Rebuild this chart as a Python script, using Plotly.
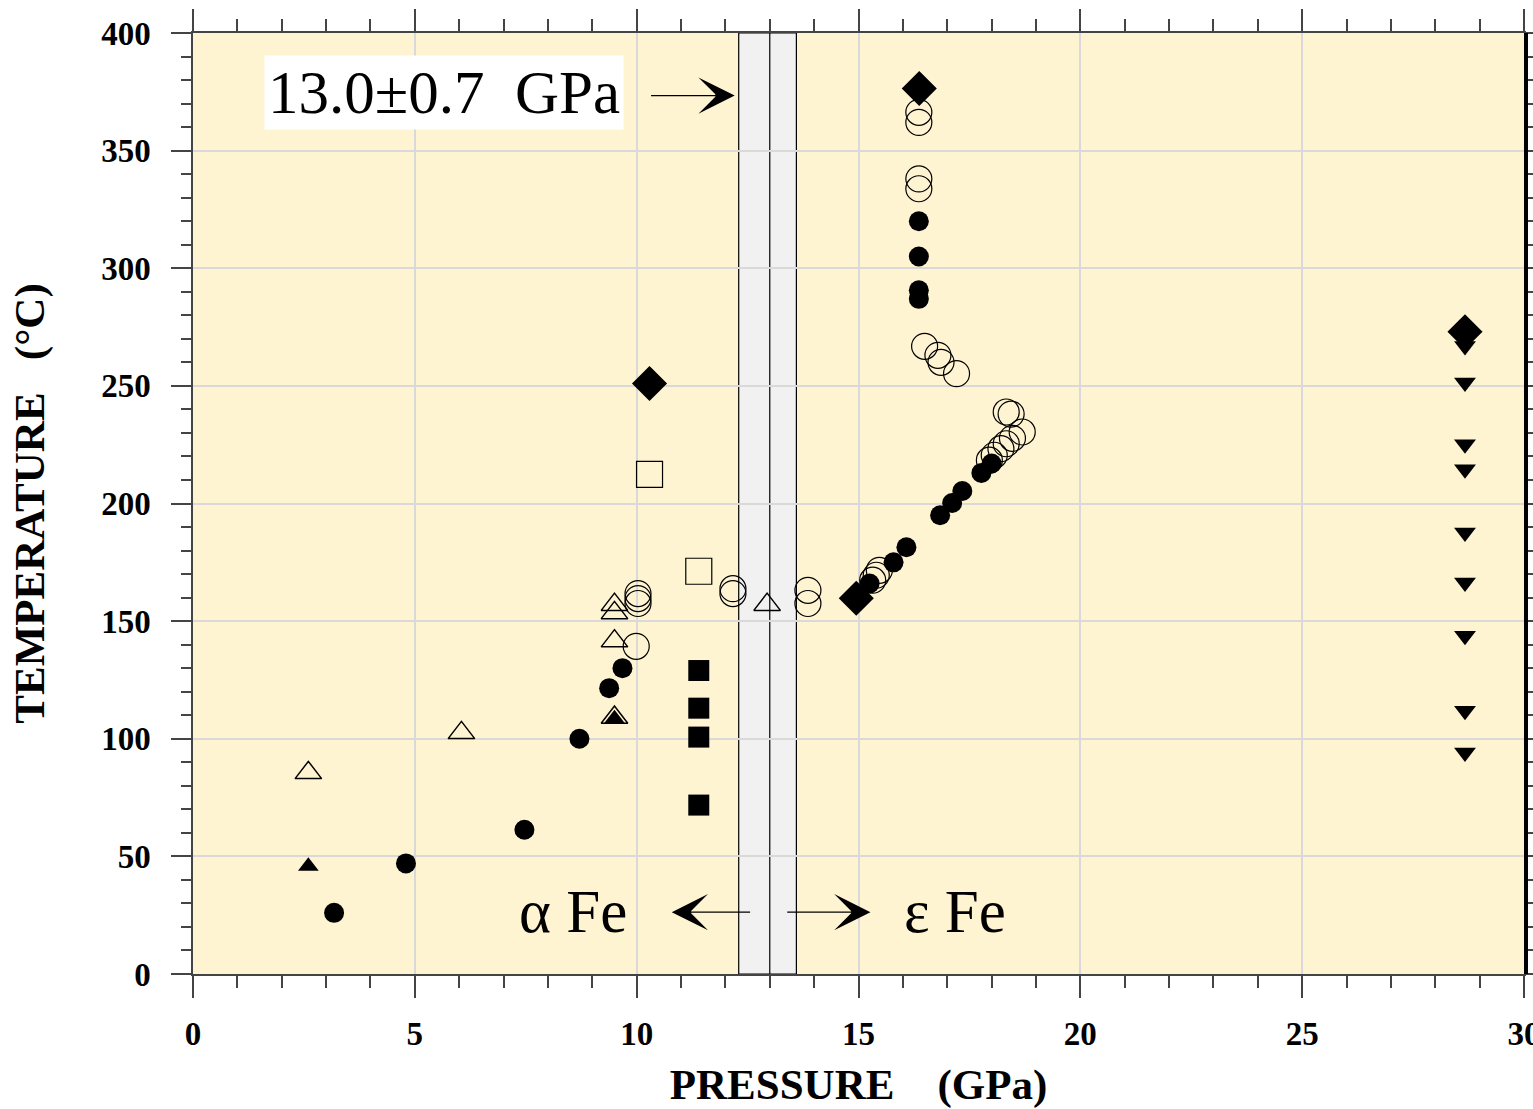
import plotly.graph_objects as go

# ---------------- data ----------------
filled_circle_p = [3.18, 4.80, 7.47, 8.71, 9.38, 9.68, 15.25, 15.79, 16.08, 16.84, 17.11, 17.34, 17.77, 18.00,
                   16.36, 16.36, 16.36, 16.36]
filled_circle_t = [26.0, 47.0, 61.3, 100.0, 121.5, 130.0, 166.0, 175.0, 181.4, 195.0, 200.2, 205.3, 213.0, 217.0,
                   320.0, 305.0, 290.6, 287.0]

open_circle_p = [10.03, 10.03, 10.03, 9.99, 12.17, 12.17, 13.86, 13.86, 15.32, 15.40, 15.47,
                 16.36, 16.36, 16.36, 16.36, 16.49, 16.79, 16.86, 17.21,
                 17.95, 18.06, 18.21, 18.33, 18.47, 18.69, 18.33, 18.44]
open_circle_t = [161.7, 159.6, 157.5, 139.3, 163.8, 161.7, 163.1, 157.5, 167.4, 169.5, 171.6,
                 366.3, 362.0, 338.0, 333.8, 266.8, 263.0, 260.0, 255.2,
                 218.4, 220.5, 223.3, 225.4, 227.7, 230.4, 238.9, 238.0]

open_tri_p = [2.60, 6.05, 9.50, 9.50, 9.50, 12.94, 9.50]
open_tri_t = [85.5, 102.5, 157.0, 153.5, 141.5, 157.0, 109.0]

filled_tri_p = [2.60, 9.50]
filled_tri_t = [45.8, 108.5]

filled_sq_p = [11.40, 11.40, 11.40, 11.40]
filled_sq_t = [129.0, 113.0, 100.7, 71.8]

open_sq_p = [10.29, 11.40]
open_sq_t = [212.4, 171.2]

diamond_p = [10.29, 16.37, 14.95, 28.67]
diamond_t = [251.0, 376.4, 159.7, 273.0]

down_tri_p = [28.67] * 9
down_tri_t = [267.0, 251.4, 225.2, 214.6, 187.7, 166.4, 143.8, 111.9, 94.2]

band_left, band_mid, band_right = 12.3, 13.0, 13.6

x_ticks = [0, 5, 10, 15, 20, 25, 30]
y_ticks = [0, 50, 100, 150, 200, 250, 300, 350, 400]

# ---------------- figure ----------------
fig = go.Figure()

def add(p, t, symbol, size, filled, lw=1.2):
    fig.add_trace(go.Scatter(
        x=p, y=t, mode="markers", showlegend=False, hoverinfo="skip", cliponaxis=False,
        marker=dict(symbol=symbol, size=size,
                    color="black" if filled else "rgba(0,0,0,0)",
                    line=dict(color="black", width=0 if filled else lw))))

add(open_circle_p, open_circle_t, "circle", 26, False)
add(open_tri_p, open_tri_t, "triangle-up", 23, False, 1.5)
add(open_sq_p, open_sq_t, "square", 26, False)
add(filled_circle_p, filled_circle_t, "circle", 20, True)
add(filled_tri_p, filled_tri_t, "triangle-up", 18, True)
add(filled_sq_p, filled_sq_t, "square", 21, True)
add(down_tri_p, down_tri_t, "triangle-down", 19, True)
add(diamond_p, diamond_t, "diamond", 27, True)

# transition band
fig.add_shape(type="rect", xref="x", yref="y", x0=band_left, x1=band_right, y0=0, y1=400,
              fillcolor="#f1f1f1", line=dict(color="black", width=1.2), layer="below")
fig.add_shape(type="line", xref="x", yref="y", x0=band_mid, x1=band_mid, y0=0, y1=400,
              line=dict(color="black", width=1.2), layer="below")
# thick right border
fig.add_shape(type="line", xref="paper", yref="paper", x0=1.0015, x1=1.0015, y0=0, y1=1,
              line=dict(color="black", width=4))

serif = "Liberation Serif, Times New Roman, serif"

ann = []
ann.append(dict(x=5.65, y=374.5, xref="x", yref="y", text="13.0±0.7\u00a0\u00a0GPa", showarrow=False,
                font=dict(family=serif, size=61, color="black"), bgcolor="white", borderpad=3))
ann.append(dict(x=8.56, y=26.5, xref="x", yref="y", text="α\u00a0Fe", showarrow=False,
                font=dict(family=serif, size=61, color="black")))
ann.append(dict(x=17.18, y=26.5, xref="x", yref="y", text="ε\u00a0Fe", showarrow=False,
                font=dict(family=serif, size=61, color="black")))
# arrows
for (tx, ty, sx, sy) in [(12.21, 373.4, 10.29, 373.4), (10.79, 26.3, 12.59, 26.3), (15.27, 26.3, 13.36, 26.3)]:
    ann.append(dict(x=tx, y=ty, ax=sx, ay=sy, xref="x", yref="y", axref="x", ayref="y",
                    text="", showarrow=True, arrowhead=3, arrowsize=5.5, arrowwidth=1.1,
                    arrowcolor="black", standoff=0, startstandoff=0))

fig.update_layout(
    width=1533, height=1109,
    margin=dict(l=193, r=9, t=33, b=135, autoexpand=False),
    paper_bgcolor="white", plot_bgcolor="#fff4d2",
    annotations=ann,
    font=dict(family=serif, color="black"),
)

fig.update_xaxes(
    range=[0, 30], tickvals=x_ticks, ticktext=[str(v) for v in x_ticks], automargin=False,
    ticklabeloverflow="allow",
    ticks="outside", ticklen=22, tickwidth=1.5, tickcolor="#444", ticklabelstandoff=8,
    showline=True, linecolor="#444", linewidth=1.5, mirror="allticks",
    showgrid=True, gridcolor="#d9d9d9", gridwidth=2, zeroline=False,
    minor=dict(dtick=1, ticks="outside", ticklen=12, tickwidth=1.5, tickcolor="#444", showgrid=False),
    tickfont=dict(family=serif, size=33, color="black", weight="bold"),
    title=dict(text="PRESSURE\u00a0\u00a0\u00a0\u00a0(GPa)", standoff=29,
               font=dict(family=serif, size=43, color="black", weight="bold")),
)
fig.update_yaxes(
    range=[0, 400], tickvals=y_ticks, ticktext=[str(v) for v in y_ticks], automargin=False,
    ticklabeloverflow="allow",
    ticks="outside", ticklen=20, tickwidth=1.5, tickcolor="#444", ticklabelstandoff=14,
    showline=True, linecolor="#444", linewidth=1.5, mirror="allticks",
    showgrid=True, gridcolor="#d9d9d9", gridwidth=2, zeroline=False,
    minor=dict(dtick=10, ticks="outside", ticklen=10, tickwidth=1.5, tickcolor="#444", showgrid=False),
    tickfont=dict(family=serif, size=33, color="black", weight="bold"),
    title=dict(text="TEMPERATURE\u00a0\u00a0\u00a0(°C)", standoff=43,
               font=dict(family=serif, size=43, color="black", weight="bold")),
)

fig.write_html("out.html")
